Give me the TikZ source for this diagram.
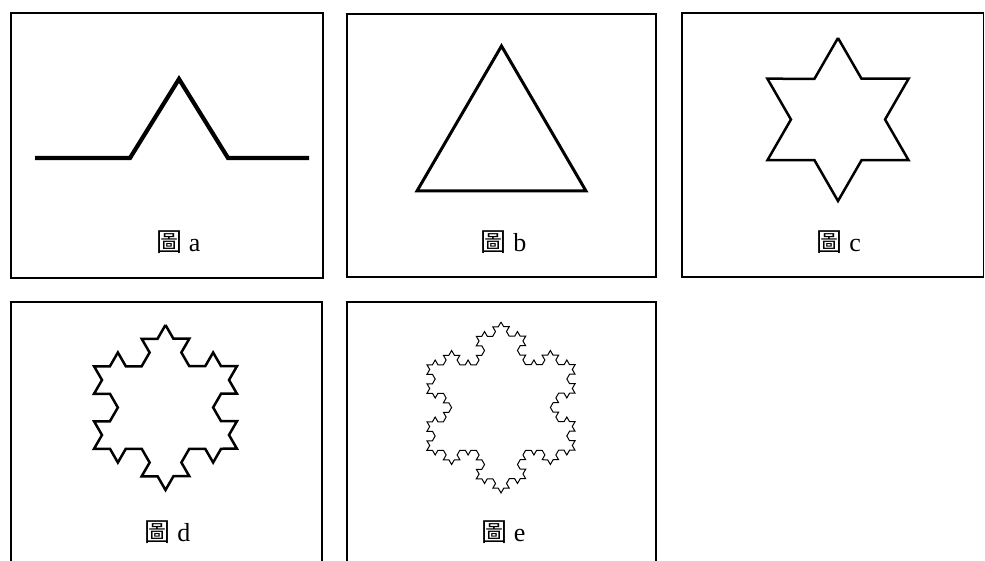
\documentclass[tikz,border=0pt]{standalone}
\usepackage{fontspec}
\setmainfont{Liberation Serif}
\newfontfamily\cjk{Noto Sans CJK TC}
\usetikzlibrary{decorations.fractals}
\begin{document}
\begin{tikzpicture}[x=1pt,y=1pt,
  frame/.style={line width=1.3pt},
  figlabel/.style={anchor=base, inner sep=0pt, font=\fontsize{26}{30}\selectfont},
  kochline/.style={decoration={Koch snowflake}, line join=miter}]
\useasboundingbox (0,0) rectangle (985,560);
% frames
\draw[frame] (11,282) rectangle (323,547);
\draw[frame] (347,283) rectangle (656,546);
\draw[frame] (682,283) rectangle (983.5,547);
\draw[frame] (11,-2) -- (11,258) -- (322,258) -- (322,-2);
\draw[frame] (347,-2) -- (347,258) -- (656,258) -- (656,-2);
% figure a
\coordinate (a1) at (35,402);
\coordinate (a2) at (130,402);
\coordinate (a3) at (179,481);
\coordinate (a4) at (228,402);
\coordinate (a5) at (309,402);
\draw[line width=4.2pt] (a1) -- (a2) -- (a3) -- (a4) -- (a5);
% figure b
\coordinate (b1) at (501.5,514);
\coordinate (b2) at (586,369);
\coordinate (b3) at (417,369);
\draw[line width=3pt, line join=miter] (b1) -- (b2) -- (b3) -- cycle;
% figure c
\coordinate (c1) at ([shift={(838,440.5)}]90:81.5);
\coordinate (c2) at ([shift={(838,440.5)}]330:81.5);
\coordinate (c3) at ([shift={(838,440.5)}]210:81.5);
\draw[kochline, line width=2.5pt] decorate{(c1) -- (c2) -- (c3) -- cycle};
% figure d
\coordinate (d1) at ([shift={(165.5,152.5)}]90:82.5);
\coordinate (d2) at ([shift={(165.5,152.5)}]330:82.5);
\coordinate (d3) at ([shift={(165.5,152.5)}]210:82.5);
\draw[kochline, line width=2.5pt] decorate{decorate{(d1) -- (d2) -- (d3) -- cycle}};
% figure e
\coordinate (e1) at ([shift={(501,152.5)}]90:85.5);
\coordinate (e2) at ([shift={(501,152.5)}]330:85.5);
\coordinate (e3) at ([shift={(501,152.5)}]210:85.5);
\draw[kochline, line width=1pt] decorate{decorate{decorate{(e1) -- (e2) -- (e3) -- cycle}}};
% labels
\node[figlabel] (la) at (178.5,308) {{\cjk 圖} a};
\node[figlabel] (lb) at (503.5,308) {{\cjk 圖} b};
\node[figlabel] (lc) at (839,308) {{\cjk 圖} c};
\node[figlabel] (ld) at (167.5,19) {{\cjk 圖} d};
\node[figlabel] (le) at (503.5,19) {{\cjk 圖} e};
\end{tikzpicture}
\end{document}
